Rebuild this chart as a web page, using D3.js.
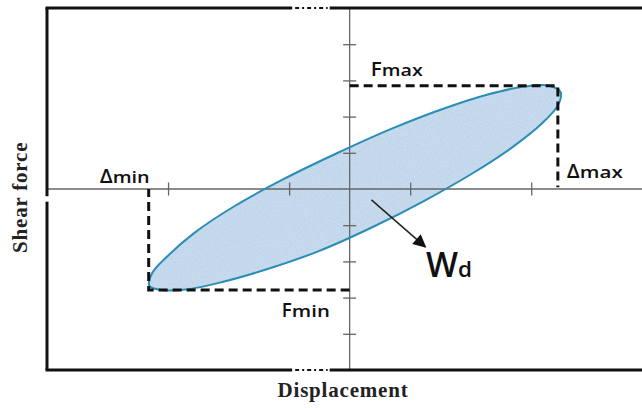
<!DOCTYPE html>
<html>
<head>
  <style>
    body { margin: 0; background: #fff; }
    svg { display: block; }
    .lbl { font-family: "Open Sans", sans-serif; font-weight: 600; fill: #111; }
    .ax-title { font-family: "Liberation Serif", "Times New Roman", serif; font-weight: bold; font-size: 21px; fill: #222; letter-spacing: 0.8px; }
  </style>
</head>
<body>
  <script src="https://d3js.org/d3.v7.min.js"></script>
  <script>
    // hysteresis loop (displacement units, force units)
    const loopDisp = [3.484, 3.445, 3.175, 2.696, 2.039, 1.249, 0.382, -0.509, -1.356, -2.105, -2.706, -3.114,
      -3.306, -3.266, -2.997, -2.571, -1.926, -1.110, -0.202, 0.687, 1.535, 2.283, 2.885, 3.293];
    const loopForce = [2.680, 2.323, 1.807, 1.163, 0.442, -0.312, -1.050, -1.715, -2.210, -2.569, -2.776, -2.790,
      -2.680, -2.334, -1.837, -1.218, -0.497, 0.257, 0.994, 1.660, 2.210, 2.610, 2.829, 2.854];

    // peak values: [max, min]
    const peakForce = [2.85, -2.79];
    const peakDisp = [3.44, -3.32];

    const xTicks = [-3, -1, 1, 3];
    const yTicks = [-4, -3, -2, -1, 1, 2, 3, 4];

    const xTitle = "Displacement";
    const yTitle = "Shear force";

    const w = 642;
    const h = 408;

    const x = d3.scaleLinear().domain([-5, 4.83]).range([47, 642]);
    const y = d3.scaleLinear().domain([-5, 5]).range([370, 8]);

    const svg = d3.select("body").append("svg")
      .attr("width", w)
      .attr("height", h);

    // light mottled texture for the loop fill
    const defs = svg.append("defs");
    const filt = defs.append("filter").attr("id", "grain")
      .attr("x", 0).attr("y", 0).attr("width", 1).attr("height", 1);
    filt.append("feTurbulence").attr("type", "fractalNoise")
      .attr("baseFrequency", 0.55).attr("numOctaves", 2).attr("seed", 3).attr("result", "noise");
    filt.append("feColorMatrix").attr("in", "noise").attr("type", "matrix")
      .attr("values", "0 0 0 0 0.5  0 0 0 0 0.6  0 0 0 0 0.72  0 0 0 -1.1 0.7")
      .attr("result", "tint");
    filt.append("feComposite").attr("in", "tint").attr("in2", "SourceGraphic").attr("operator", "atop");

    defs.append("marker").attr("id", "head")
      .attr("viewBox", "0 0 10 10").attr("refX", 9).attr("refY", 5)
      .attr("markerWidth", 15).attr("markerHeight", 13)
      .attr("markerUnits", "userSpaceOnUse")
      .attr("orient", "auto")
      .append("path").attr("d", "M0,0 L10,5 L0,10 Z").attr("fill", "#111");

    const pts = loopDisp.map((d, i) => [d, loopForce[i]]);
    const loopLine = d3.line()
      .x(d => x(d[0]))
      .y(d => y(d[1]))
      .curve(d3.curveCatmullRomClosed.alpha(0.5));

    svg.append("path")
      .attr("d", loopLine(pts))
      .attr("fill", "#c6dbef")
      .attr("filter", "url(#grain)");

    // zero axes
    svg.append("line")
      .attr("x1", x.range()[0]).attr("x2", x.range()[1])
      .attr("y1", y(0)).attr("y2", y(0))
      .attr("stroke", "#666").attr("stroke-width", 1.3);
    svg.append("line")
      .attr("x1", x(0)).attr("x2", x(0))
      .attr("y1", y.range()[1]).attr("y2", y.range()[0])
      .attr("stroke", "#666").attr("stroke-width", 1.3);

    // ticks crossing the axes
    const xAxis = d3.axisBottom(x).tickValues(xTicks).tickSize(13).tickFormat("");
    const gx = svg.append("g")
      .attr("transform", "translate(0," + (y(0) - 6.5) + ")")
      .call(xAxis);
    const yAxis = d3.axisRight(y).tickValues(yTicks).tickSize(13).tickFormat("");
    const gy = svg.append("g")
      .attr("transform", "translate(" + (x(0) - 6.5) + ",0)")
      .call(yAxis);
    [gx, gy].forEach(g => {
      g.select(".domain").remove();
      g.selectAll(".tick line").attr("stroke", "#666").attr("stroke-width", 1.3);
    });

    // loop outline on top
    svg.append("path")
      .attr("d", loopLine(pts))
      .attr("fill", "none")
      .attr("stroke", "#2a8db4")
      .attr("stroke-width", 2);

    // dashed peak guides
    const dash = d3.line().x(d => x(d[0])).y(d => y(d[1]));
    [0, 1].forEach(i => {
      svg.append("path")
        .attr("d", dash([[0, peakForce[i]], [peakDisp[i], peakForce[i]], [peakDisp[i], i === 0 ? 0.05 : 0]]))
        .attr("fill", "none")
        .attr("stroke", "#111")
        .attr("stroke-width", 3)
        .attr("stroke-dasharray", "9,5");
    });

    // frame (left, top, bottom) with break marks
    const frame = svg.append("g").attr("stroke", "#111").attr("fill", "none");
    const [x0, x1] = x.range();
    const [yb, yt] = y.range();
    const gapA = x(-0.95), gapB = x(-0.33);
    [yt, yb].forEach(yy => {
      frame.append("line").attr("x1", x0 - 1.5).attr("x2", gapA).attr("y1", yy).attr("y2", yy).attr("stroke-width", 3);
      frame.append("line").attr("x1", gapB).attr("x2", x1).attr("y1", yy).attr("y2", yy).attr("stroke-width", 3);
      frame.append("line").attr("x1", gapA + 3).attr("x2", gapB - 2).attr("y1", yy).attr("y2", yy)
        .attr("stroke-width", 2.2).attr("stroke-dasharray", "4,3,2,3");
    });
    frame.append("line").attr("x1", x0).attr("x2", x0).attr("y1", yt).attr("y2", y(-0.2)).attr("stroke-width", 3);
    frame.append("line").attr("x1", x0).attr("x2", x0).attr("y1", y(-0.35)).attr("y2", yb).attr("stroke-width", 3);

    // arrow to the loop area
    svg.append("line")
      .attr("x1", x(0.36)).attr("y1", y(-0.3))
      .attr("x2", x(1.25)).attr("y2", y(-1.6))
      .attr("stroke", "#222").attr("stroke-width", 1.5)
      .attr("marker-end", "url(#head)");

    // labels: main letter + small suffix
    function label(main, sub, px, py, mainSize, subSize, mainLen, subLen) {
      svg.append("text").attr("class", "lbl")
        .attr("x", px).attr("y", py)
        .attr("font-size", mainSize)
        .attr("textLength", mainLen).attr("lengthAdjust", "spacingAndGlyphs")
        .text(main);
      svg.append("text").attr("class", "lbl")
        .attr("x", px + mainLen).attr("y", py)
        .attr("font-size", subSize)
        .attr("textLength", subLen).attr("lengthAdjust", "spacingAndGlyphs")
        .text(sub);
    }
    label("F", "max", x(0.35), y(peakForce[0]) - 10, 19, 16.5, 11, 41);
    label("F", "min", x(-1.12), y(peakForce[1]) + 27, 19, 16.5, 10, 38);
    label("\u0394", "max", x(peakDisp[0]) + 9, y(0) - 11, 19, 16.5, 13, 43);
    label("\u0394", "min", x(peakDisp[1]) - 49, y(0) - 6, 19, 16.5, 13, 37);
    label("W", "d", x(1.26), y(-2.43), 35, 21, 32, 14);

    // axis titles
    svg.append("text").attr("class", "ax-title")
      .attr("x", 343).attr("y", 397)
      .attr("text-anchor", "middle")
      .text(xTitle);
    svg.append("text").attr("class", "ax-title")
      .attr("transform", "translate(27," + (y(-0.23)) + ") rotate(-90)")
      .attr("text-anchor", "middle")
      .text(yTitle);
  </script>
</body>
</html>
